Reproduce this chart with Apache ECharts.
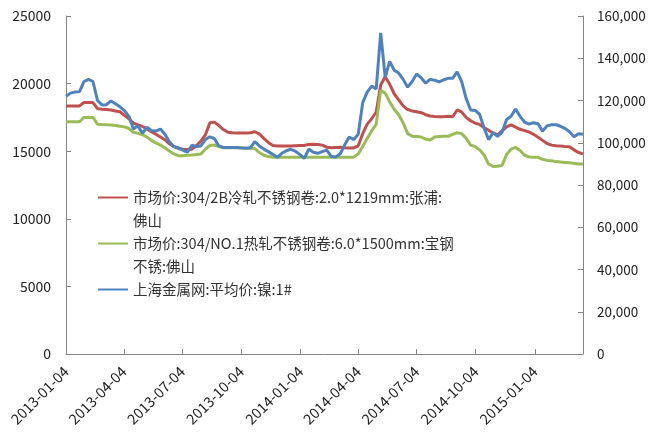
<!DOCTYPE html>
<html>
<head>
<meta charset="utf-8">
<script src="https://cdn.jsdelivr.net/npm/echarts@6/dist/echarts.min.js"></script>
<style>
  html, body { margin: 0; padding: 0; background: #fff; }
  #chart { width: 650px; height: 434px; }
</style>
</head>
<body>
<div id="chart"></div>
<script>
// 日期轴：起止日期、刻度标签、采样步长（周）
const startDate = '2013-01-04';
const endDate = '2015-03-20';
const tickLabels = ['2013-01-04', '2013-04-04', '2013-07-04', '2013-10-04', '2014-01-04',
  '2014-04-04', '2014-07-04', '2014-10-04', '2015-01-04'];
const stepDays = 7;

const seriesNames = [
  '市场价:304/2B冷轧不锈钢卷:2.0*1219mm:张浦:佛山',
  '市场价:304/NO.1热轧不锈钢卷:6.0*1500mm:宝钢不锈:佛山',
  '上海金属网:平均价:镍:1#'
];

// 冷轧 304/2B（左轴）
const coldRolled = [
  18350, 18350, 18350, 18350, 18600, 18600, 18600, 18150, 18100, 18080,
  18050, 17980, 17920, 17650, 17400, 17080, 16950, 16830, 16650, 16450,
  16250, 16050, 15850, 15550, 15350, 15200, 15150, 15120, 15150, 15400,
  15750, 16200, 17100, 17150, 16900, 16600, 16400, 16370, 16350, 16350,
  16350, 16370, 16440, 16280, 15950, 15650, 15420, 15380, 15380, 15380,
  15380, 15400, 15420, 15430, 15500, 15510, 15500, 15450, 15300, 15250,
  15280, 15300, 15250, 15240, 15240, 15400, 16300, 17000, 17400, 17900,
  19900, 20500, 19950, 19250, 18800, 18350, 18080, 17980, 17920, 17850,
  17700, 17600, 17560, 17550, 17540, 17580, 17550, 18050, 17900, 17500,
  17250, 17080, 16980, 16750, 16550, 16350, 16200, 16500, 16800, 16950,
  16780, 16620, 16520, 16420, 16250, 16030, 15800, 15570, 15450, 15400,
  15380, 15350, 15330, 15100, 14900, 14800
];

// 热轧 304/NO.1（左轴）
const hotRolled = [
  17180, 17180, 17180, 17180, 17500, 17520, 17500, 17000, 16970, 16950,
  16940, 16900, 16850, 16800, 16680, 16400, 16320, 16220, 16050, 15800,
  15620, 15450, 15250, 15020, 14800, 14670, 14670, 14700, 14720, 14750,
  14800, 15150, 15420, 15460, 15350, 15250, 15250, 15250, 15250, 15250,
  15230, 15220, 15200, 14900, 14700, 14600, 14550, 14550, 14550, 14550,
  14550, 14550, 14560, 14560, 14560, 14560, 14560, 14560, 14560, 14560,
  14560, 14560, 14560, 14560, 14560, 14800, 15350, 15950, 16500, 17000,
  19500, 19300, 18650, 18100, 17700, 17100, 16300, 16100, 16080, 16050,
  15900, 15820, 16050, 16080, 16100, 16100, 16250, 16370, 16300, 15950,
  15450, 15350, 15100, 14720, 14050, 13870, 13880, 13950, 14750, 15150,
  15280, 15050, 14700, 14570, 14560, 14550, 14400, 14320, 14300, 14230,
  14200, 14170, 14140, 14100, 14060, 14050
];

// 镍 1#（右轴）
const nickel = [
  122000, 123500, 124000, 124200, 129000, 130000, 129000, 120000, 117900, 118000,
  119800, 118500, 117000, 115200, 112500, 106500, 108000, 104500, 107300, 105800,
  105500, 106500, 104000, 100500, 98100, 97600, 96500, 95500, 98800, 98200,
  98500, 101500, 102800, 102000, 98500, 97800, 97800, 97800, 97700, 97500,
  97400, 97600, 100500, 98500, 97000, 95800, 94500, 93100, 95000, 96200,
  96900, 96000, 94500, 92600, 97000, 95500, 95000, 95800, 96500, 93500,
  93300, 94800, 99000, 102700, 101500, 104000, 119000, 124000, 126800, 125500,
  152000, 131000, 138500, 134300, 133000, 130000, 126300, 129000, 132500, 130800,
  128200, 130000, 129600, 128800, 129800, 130500, 130500, 133500, 129000, 121000,
  115500, 115300, 113500, 107000, 101500, 104800, 103000, 105000, 111000, 112500,
  116000, 112500, 109800, 108800, 109500, 109000, 105500, 108000, 108500, 108500,
  107800, 106800, 105200, 102800, 104300, 104000
];

const fontFamily = '"Noto Sans CJK SC", "Noto Sans", sans-serif';

// 每天一个类目，按周取样
function dayList(from, to) {
  const out = [];
  const d = new Date(from + 'T00:00:00Z');
  const end = new Date(to + 'T00:00:00Z');
  while (d <= end) {
    out.push(d.toISOString().slice(0, 10));
    d.setUTCDate(d.getUTCDate() + 1);
  }
  return out;
}
const days = dayList(startDate, endDate);
const toPoints = arr => arr.map((v, i) => [i * stepDays, v]);

const legendText = {};
legendText[seriesNames[0]] = '{r|}{t|市场价:304/2B冷轧不锈钢卷:2.0*1219mm:张浦:}\n{s|}{t|佛山}';
legendText[seriesNames[1]] = '{g|}{t|市场价:304/NO.1热轧不锈钢卷:6.0*1500mm:宝钢}\n{s|}{t|不锈:佛山}';
legendText[seriesNames[2]] = '{b|}{t|上海金属网:平均价:镍:1#}';

const colors = ['#C0504D', '#9BBB59', '#4F81BD'];
const showTick = (idx, val) => tickLabels.indexOf(val) >= 0;

const chart = echarts.init(document.getElementById('chart'));
chart.setOption({
  animation: false,
  color: colors,
  grid: { left: 66, right: 67, top: 16, bottom: 80 },
  legend: {
    orient: 'vertical',
    left: 87,
    top: 181,
    itemWidth: 0,
    itemHeight: 0,
    itemGap: 0,
    selectedMode: false,
    data: seriesNames,
    formatter: name => legendText[name],
    textStyle: {
      fontFamily: fontFamily,
      fontSize: 14.5,
      lineHeight: 23,
      color: '#333',
      rich: {
        r: { width: 30, height: 2, backgroundColor: colors[0] },
        g: { width: 30, height: 2, backgroundColor: colors[1] },
        b: { width: 30, height: 2, backgroundColor: colors[2] },
        s: { width: 30, height: 2 },
        t: { fontFamily: fontFamily, fontSize: 14.5, lineHeight: 23, color: '#333', padding: [0, 0, 0, 5] }
      }
    }
  },
  xAxis: {
    type: 'category',
    data: days,
    boundaryGap: false,
    axisLine: { lineStyle: { color: '#868686' } },
    axisTick: { inside: true, length: 5, interval: showTick, lineStyle: { color: '#868686' } },
    axisLabel: {
      interval: showTick,
      rotate: 45,
      margin: 15,
      fontFamily: fontFamily,
      fontSize: 14.5,
      color: '#222'
    },
    splitLine: { show: false }
  },
  yAxis: [
    {
      type: 'value',
      min: 0,
      max: 25000,
      interval: 5000,
      axisLine: { show: true, lineStyle: { color: '#868686' } },
      axisTick: { show: true, inside: true, length: 5, lineStyle: { color: '#868686' } },
      axisLabel: {
        margin: 15,
        fontFamily: fontFamily,
        fontSize: 14,
        color: '#222',
        formatter: v => String(v)
      },
      splitLine: { show: false }
    },
    {
      type: 'value',
      min: 0,
      max: 160000,
      interval: 20000,
      position: 'right',
      axisLine: { show: true, lineStyle: { color: '#868686' } },
      axisTick: { show: true, inside: true, length: 5, lineStyle: { color: '#868686' } },
      axisLabel: {
        margin: 14,
        fontFamily: fontFamily,
        fontSize: 13.5,
        color: '#222',
        formatter: v => v.toLocaleString('en-US')
      },
      splitLine: { show: false }
    }
  ],
  series: [
    {
      name: seriesNames[0], type: 'line', yAxisIndex: 0, showSymbol: false, symbol: 'none',
      lineStyle: { width: 3 }, data: toPoints(coldRolled)
    },
    {
      name: seriesNames[1], type: 'line', yAxisIndex: 0, showSymbol: false, symbol: 'none',
      lineStyle: { width: 3 }, data: toPoints(hotRolled)
    },
    {
      name: seriesNames[2], type: 'line', yAxisIndex: 1, showSymbol: false, symbol: 'none',
      lineStyle: { width: 3 }, data: toPoints(nickel)
    }
  ]
});
</script>
</body>
</html>
